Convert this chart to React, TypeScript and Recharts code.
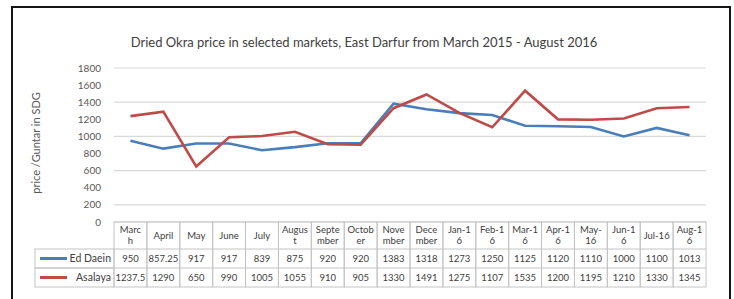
import React from "react";
import { LineChart, Line, XAxis, YAxis, CartesianGrid } from "recharts";

const categories = [
  "March", "April", "May", "June", "July", "August", "September", "October",
  "November", "December", "Jan-16", "Feb-16", "Mar-16", "Apr-16", "May-16",
  "Jun-16", "Jul-16", "Aug-16",
];
const headerLabels = [
  "Marc\nh", "April", "May", "June", "July", "Augus\nt", "Septe\nmber", "Octob\ner",
  "Nove\nmber", "Dece\nmber", "Jan-1\n6", "Feb-1\n6", "Mar-1\n6", "Apr-1\n6", "May-\n16",
  "Jun-1\n6", "Jul-16", "Aug-1\n6",
];
const edDaein = [950, 857.25, 917, 917, 839, 875, 920, 920, 1383, 1318, 1273, 1250, 1125, 1120, 1110, 1000, 1100, 1013];
const asalaya = [1237.5, 1290, 650, 990, 1005, 1055, 910, 905, 1330, 1491, 1275, 1107, 1535, 1200, 1195, 1210, 1330, 1345];
const yTicks = [0, 200, 400, 600, 800, 1000, 1200, 1400, 1600, 1800];
const seriesNames = ["Ed Daein", "Asalaya"];

const data = categories.map((c, i) => ({ cat: c, ed: edDaein[i], as: asalaya[i] }));

const W = 734;
const H = 299;
const PLOT_L = 114;
const PLOT_R = 706;
const PLOT_T = 68;
const PLOT_B = 222;
const BW = (PLOT_R - PLOT_L) / categories.length;
const HEADER_H = 27;
const ROW_H = 19;
const BLUE = "#4A7EBB";
const RED = "#BE4B48";
const BORDER = "#c4c4c4";
const FONT = "Lato, 'Liberation Sans', sans-serif";
const TEXT = "#404040";

const TableTick = (props: any) => {
  const { x, index } = props;
  const left = x - BW / 2;
  const top = PLOT_B;
  const lines = headerLabels[index].split("\n");
  const r1 = top + HEADER_H;
  const r2 = r1 + ROW_H;
  const fmt = (v: number) => String(v);
  return (
    <g fontFamily={FONT} fontSize={9.5} fill={TEXT}>
      <rect x={left} y={top} width={BW} height={HEADER_H + 2 * ROW_H} fill="none" stroke={BORDER} strokeWidth={1} />
      <line x1={left} x2={left + BW} y1={r1} y2={r1} stroke={BORDER} />
      <line x1={left} x2={left + BW} y1={r2} y2={r2} stroke={BORDER} />
      {lines.length === 1 ? (
        <text x={x} y={top + HEADER_H / 2 + 3.5} textAnchor="middle">{lines[0]}</text>
      ) : (
        lines.map((l, k) => (
          <text key={k} x={x} y={top + 10.5 + k * 11.5} textAnchor="middle">{l}</text>
        ))
      )}
      <text x={x} y={r1 + ROW_H / 2 + 3.5} textAnchor="middle">{fmt(edDaein[index])}</text>
      <text x={x} y={r2 + ROW_H / 2 + 3.5} textAnchor="middle">{fmt(asalaya[index])}</text>
      {index === 0 && (
        <g>
          {[0, 1].map((k) => {
            const ry = r1 + k * ROW_H;
            return (
              <g key={k}>
                <rect x={35} y={ry} width={left - 35} height={ROW_H} fill="none" stroke={BORDER} />
                <line x1={40} x2={67} y1={ry + ROW_H / 2} y2={ry + ROW_H / 2} stroke={k === 0 ? BLUE : RED} strokeWidth={3} />
                <text x={left - 3} y={ry + ROW_H / 2 + 3.5} textAnchor="end" fontSize={10.5}>{seriesNames[k]}</text>
              </g>
            );
          })}
        </g>
      )}
    </g>
  );
};

export default function App() {
  return (
    <div style={{ position: "fixed", left: 0, top: 0, width: W, height: H, overflow: "hidden", background: "#fff" }}>
      <div
        style={{
          position: "absolute", left: 11, top: 6, width: 720, height: 330,
          border: "2px solid #151515", boxSizing: "border-box",
        }}
      />
      <div style={{ position: "absolute", left: 0, top: 0 }}>
        <LineChart width={W} height={H} data={data} margin={{ top: PLOT_T, right: W - PLOT_R, bottom: H - PLOT_B - 65, left: PLOT_L - 60 }}>
          <CartesianGrid vertical={false} stroke="#d9d9d9" strokeWidth={1.2} />
          <XAxis
            dataKey="cat"
            height={65}
            axisLine={false}
            tickLine={false}
            interval={0}
            padding={{ left: BW / 2, right: BW / 2 }}
            tick={(p: any) => <TableTick {...p} />}
          />
          <YAxis
            width={60}
            domain={[0, 1800]}
            ticks={yTicks}
            axisLine={false}
            tickLine={false}
            tickSize={0}
            tickMargin={13}
            tick={{ fontSize: 10, fill: "#595959", fontFamily: FONT }}
          />
          <Line dataKey="ed" stroke={BLUE} strokeWidth={2.6} dot={false} isAnimationActive={false} />
          <Line dataKey="as" stroke={RED} strokeWidth={2.6} dot={false} isAnimationActive={false} />
          <text x={364} y={47} textAnchor="middle" fontFamily={FONT} fontSize={13} fill={TEXT}>
            Dried Okra price in selected markets, East Darfur from March 2015 - August 2016
          </text>
          <text x={40} y={143} textAnchor="middle" fontFamily={FONT} fontSize={11} fill="#595959" transform="rotate(-90 40 143)">
            price /Guntar in SDG
          </text>
        </LineChart>
      </div>
    </div>
  );
}
